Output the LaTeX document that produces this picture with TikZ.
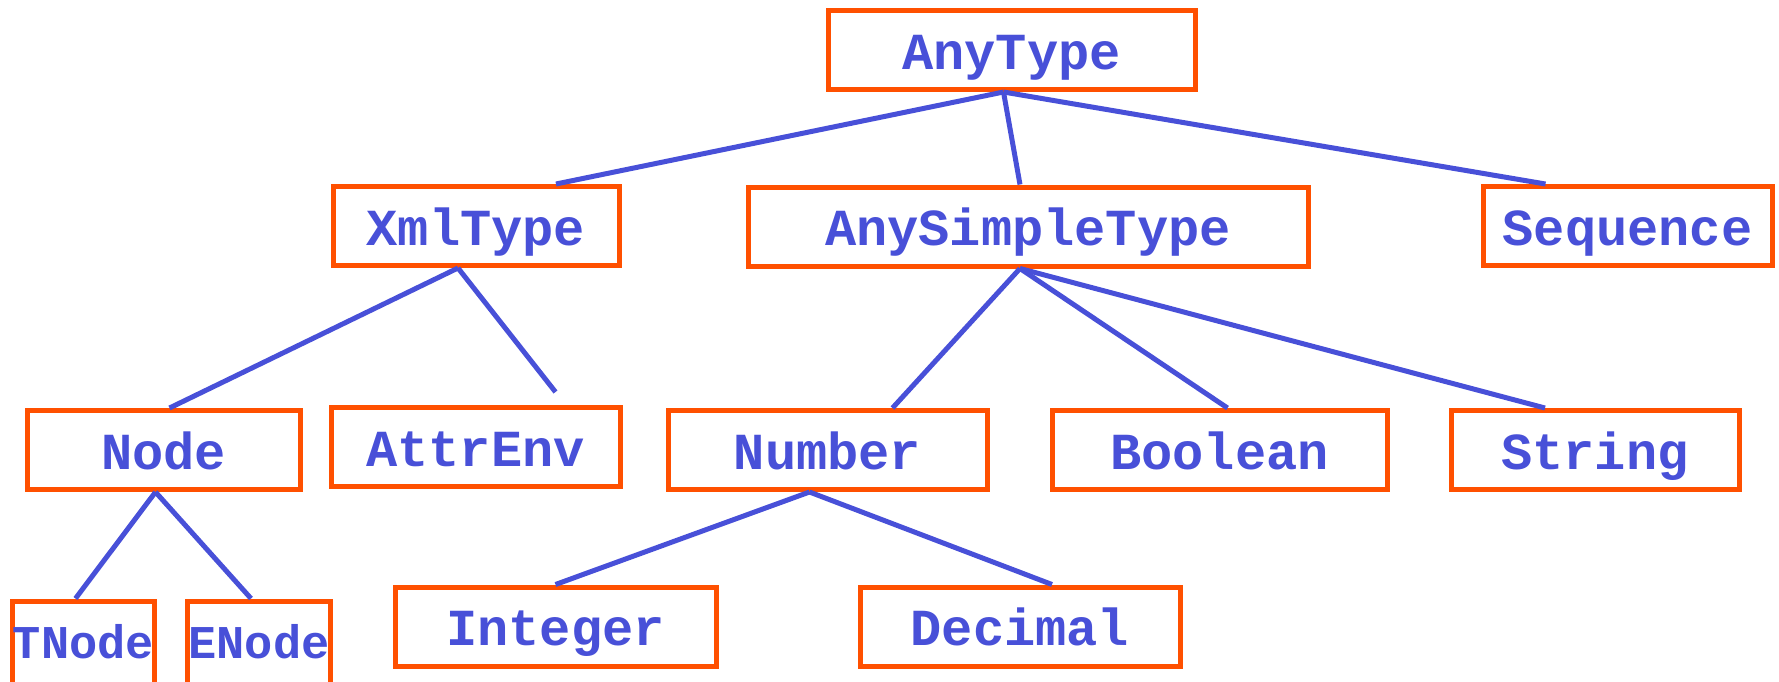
\documentclass[tikz,border=0pt]{standalone}
\usepackage{fontspec}
\setmonofont{Liberation Mono}
\definecolor{boxorange}{RGB}{255,80,0}
\definecolor{typeblue}{RGB}{72,80,216}
\begin{document}
\begin{tikzpicture}[x=0.5pt, y=-0.5pt,
        box/.style = {draw=boxorange, line width=2.5pt, rectangle, inner sep=0pt,
            minimum height=39.5pt, text height=19pt, text depth=0pt, text=typeblue,
            font=\ttfamily\bfseries\fontsize{26}{26}\selectfont},
        small/.style = {text height=13.5pt, font=\ttfamily\bfseries\fontsize{23.5}{23.5}\selectfont},
        edge/.style = {draw=typeblue, line width=2.5pt}]
        \useasboundingbox (0,0) rectangle (1779,681);
        \clip (0,0) rectangle (1779,681);

        \node[box, minimum width=183.5pt] (anytype) at (1011.5,50) {AnyType};
        \node[box, minimum width=143pt] (xmltype) at (476,226) {XmlType};
        \node[box, minimum width=280pt] (simple) at (1028,226.5) {AnySimpleType};
        \node[box, minimum width=144.5pt] (sequence) at (1627.5,226) {Sequence};
        \node[box, minimum width=136.5pt] (node) at (163.5,450) {Node};
        \node[box, minimum width=144.5pt] (attrenv) at (475.5,447) {AttrEnv};
        \node[box, minimum width=159.5pt] (number) at (827.5,450) {Number};
        \node[box, minimum width=167.5pt] (boolean) at (1219.5,450) {Boolean};
        \node[box, minimum width=144pt] (string) at (1595,450) {String};
        \node[box, small, minimum width=71pt, minimum height=43.5pt] (tnode) at (83.5,644.5) {TNode};
        \node[box, small, minimum width=71.5pt, minimum height=43.5pt] (enode) at (259,644.5) {ENode};
        \node[box, minimum width=160.5pt] (integer) at (555.5,626.5) {Integer};
        \node[box, minimum width=160pt] (decimal) at (1020,626.5) {Decimal};

        \coordinate (attrtop) at ([xshift=40pt, yshift=6.5pt]attrenv.north);

        \foreach \t/\d in {xmltype/40pt, simple/-4pt, sequence/-41pt}{
            \draw[edge] ([xshift=-4pt]anytype.south) -- ([xshift=\d]\t.north);
        }

        \draw[edge] ([xshift=-9pt]xmltype.south) -- ([xshift=3pt]node.north);
        \draw[edge] ([xshift=-9pt]xmltype.south) -- (attrtop);

        \foreach \t/\d in {number/32.5pt, boolean/4pt, string/-25pt}{
            \draw[edge] ([xshift=-4pt]simple.south) -- ([xshift=\d]\t.north);
        }

        \foreach \t in {tnode, enode}{
            \draw[edge] ([xshift=-4pt]node.south) -- ([xshift=-4pt]\t.north);
        }

        \draw[edge] ([xshift=-9pt]number.south) -- (integer.north);
        \draw[edge] ([xshift=-9pt]number.south) -- ([xshift=16pt]decimal.north);
    \end{tikzpicture}
\end{document}
